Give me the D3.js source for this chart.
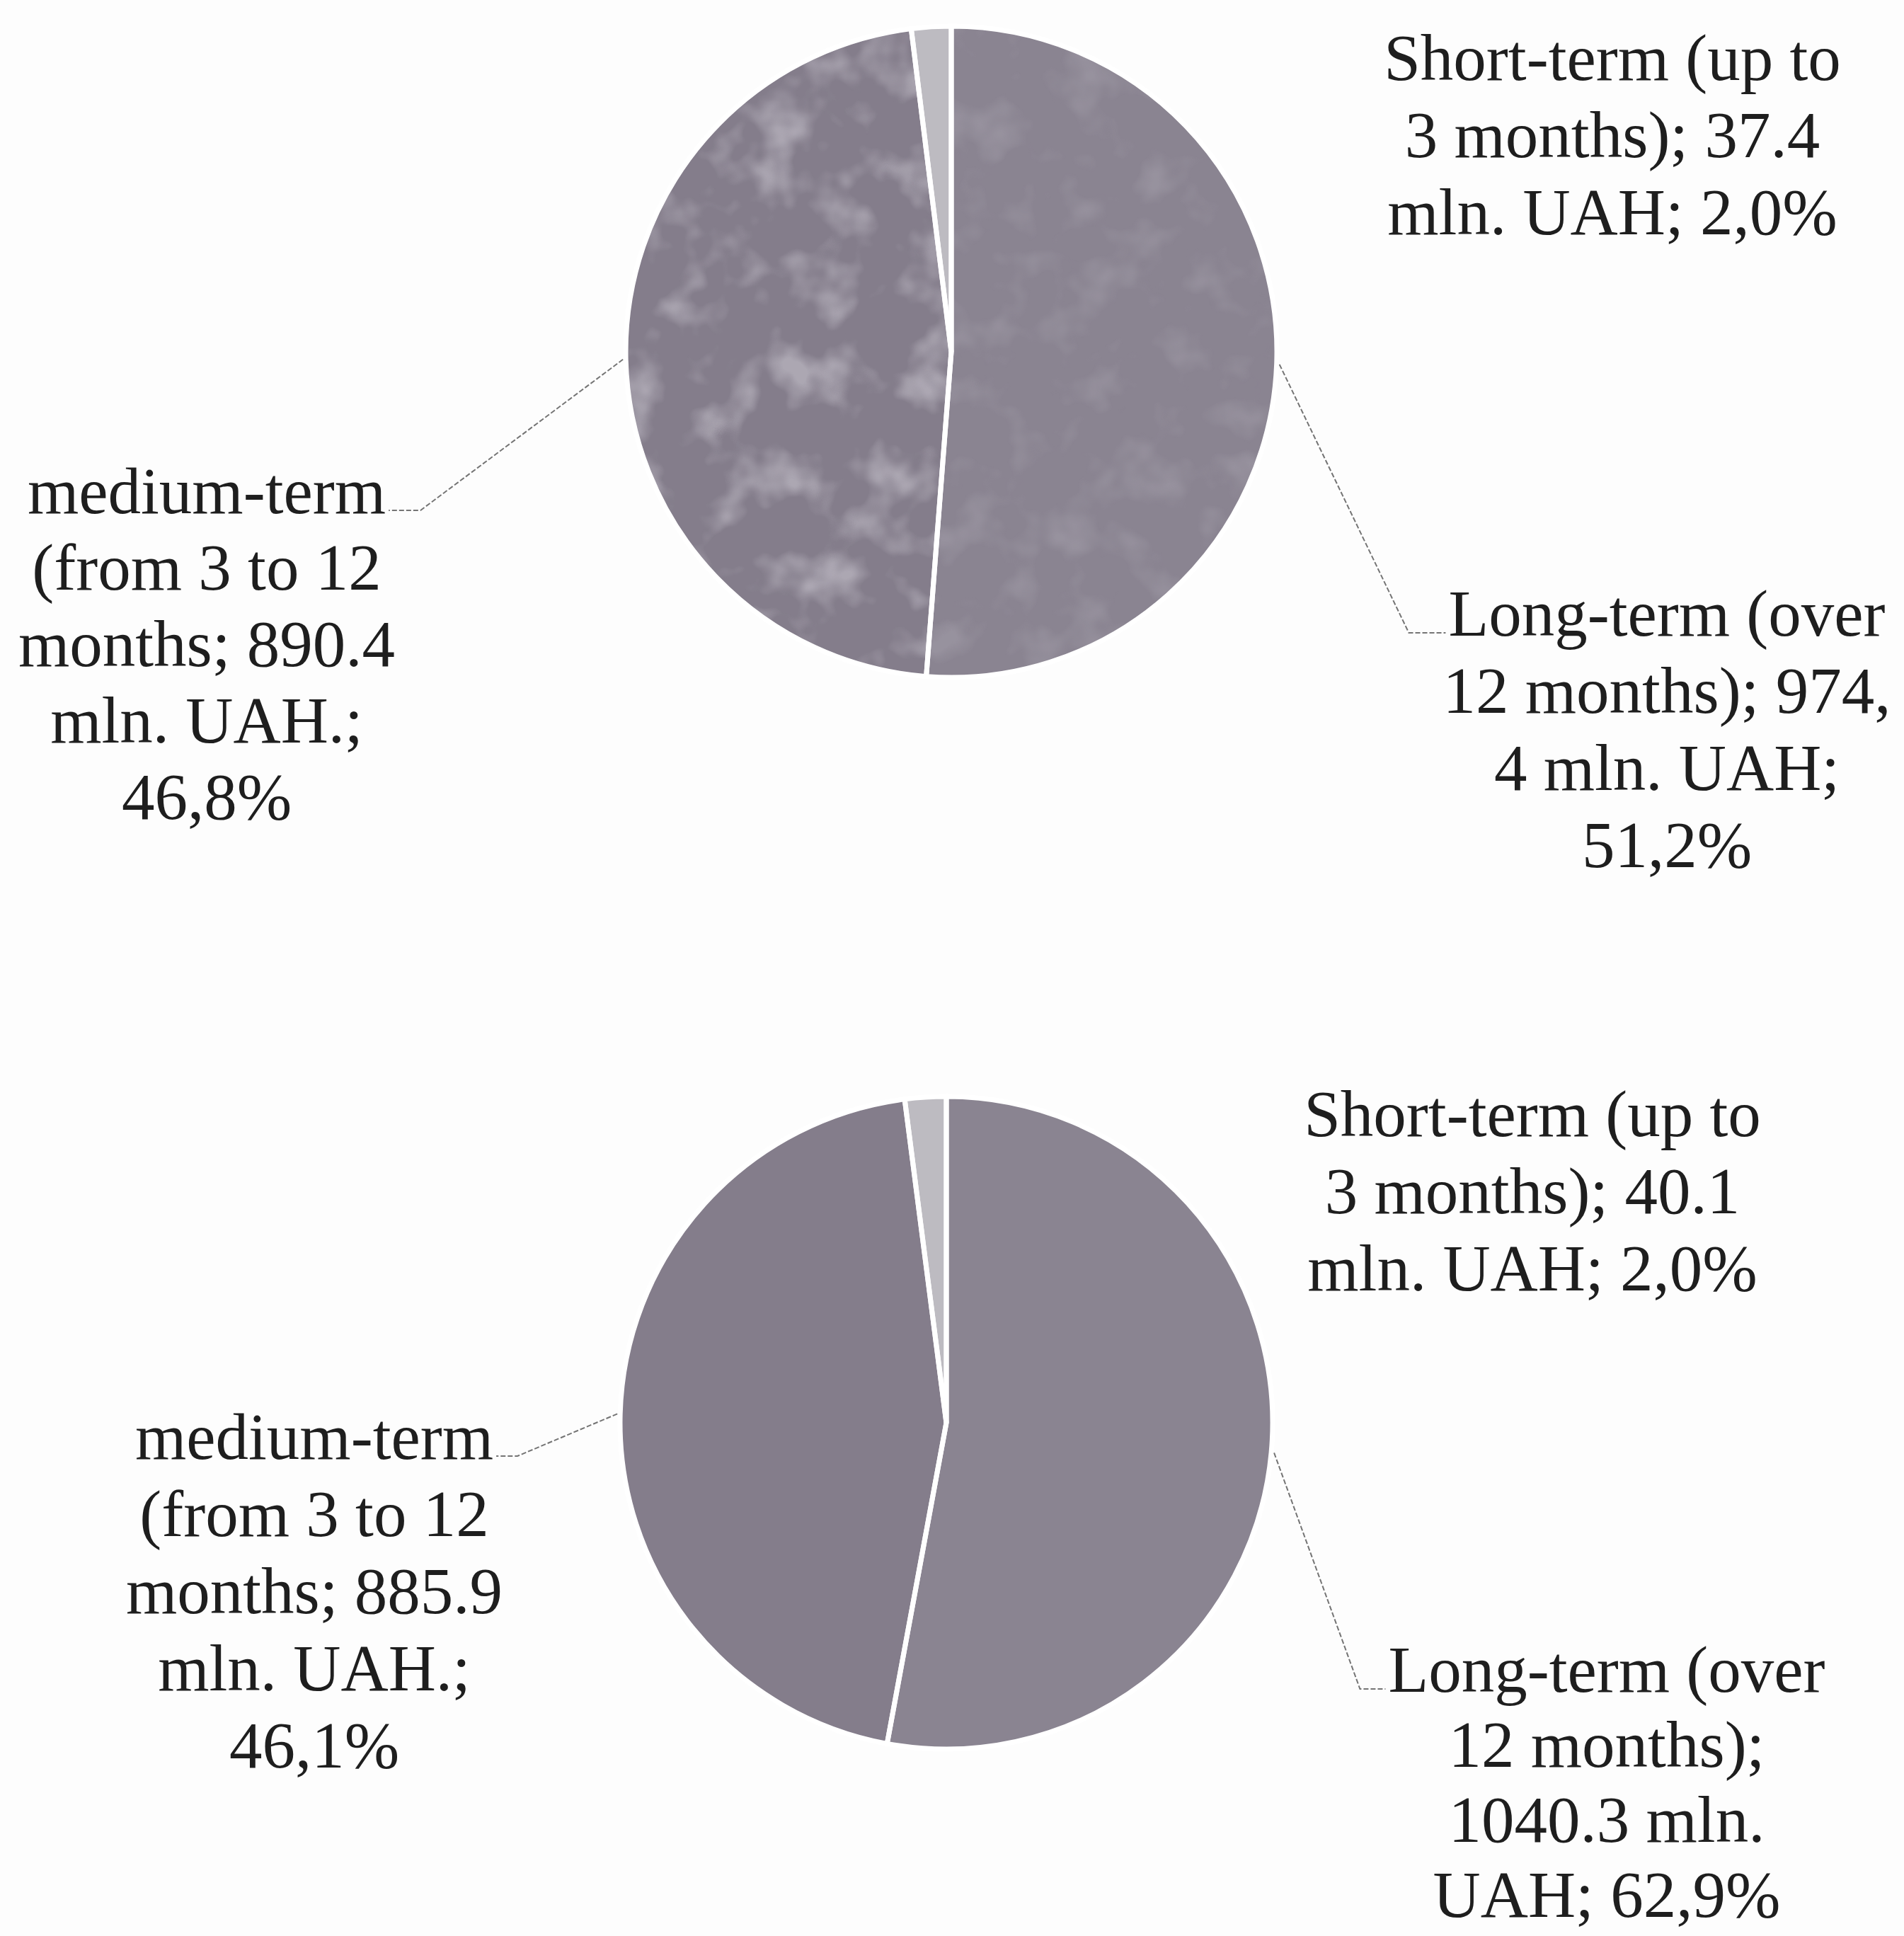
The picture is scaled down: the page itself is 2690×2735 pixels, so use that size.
<!DOCTYPE html>
<html>
<head>
<meta charset="utf-8">
<script src="https://cdn.jsdelivr.net/npm/d3@7"></script>
<style>
  html, body { margin: 0; padding: 0; background: #fdfdfd; }
  svg { display: block; }
</style>
</head>
<body>
<svg id="chart"></svg>
<script>
// Structure of deposits by term, mln. UAH (two periods)
const categories = ["Long-term", "Medium-term", "Short-term"];
const valuesTop = [974.4, 890.4, 37.4];
const valuesBottom = [1040.3, 885.9, 40.1];

const labelsTop = [
  ["Long-term (over", "12 months); 974,", "4 mln. UAH;", "51,2%"],
  ["medium-term", "(from 3 to 12", "months; 890.4", "mln. UAH.;", "46,8%"],
  ["Short-term (up to", "3 months); 37.4", "mln. UAH; 2,0%"]
];
const labelsBottom = [
  ["Long-term (over", "12 months);", "1040.3 mln.", "UAH; 62,9%"],
  ["medium-term", "(from 3 to 12", "months; 885.9", "mln. UAH.;", "46,1%"],
  ["Short-term (up to", "3 months); 40.1", "mln. UAH; 2,0%"]
];

const W = 2690, H = 2735;
const FONT = "'Liberation Serif', 'Times New Roman', serif";
const FONT_SIZE = 93;

const sliceColor = d3.scaleOrdinal()
  .domain(categories)
  .range(["#8a8491", "#847d8b", "#bdbbc1"]);

const svg = d3.select("#chart").attr("width", W).attr("height", H);
svg.append("rect").attr("width", W).attr("height", H).attr("fill", "#fdfdfd");

// soft printed-paper mottling used on the first pie
const defs = svg.append("defs");
const f = defs.append("filter").attr("id", "mottle")
  .attr("x", 0).attr("y", 0).attr("width", 1).attr("height", 1);
f.append("feTurbulence").attr("type", "fractalNoise")
  .attr("baseFrequency", 0.014).attr("numOctaves", 3).attr("seed", 11).attr("result", "n");
f.append("feColorMatrix").attr("in", "n").attr("type", "matrix")
  .attr("values", "0 0 0 0 0.66  0 0 0 0 0.64  0 0 0 0 0.70  3 0 0 0 -1.45");

// Layout of each pie and its three label blocks
const panels = [
  {
    id: "top", values: valuesTop, labels: labelsTop,
    cx: 1344, cy: 497, r: 460, mottle: [0.18, 0.5, 0],
    label: [
      { x: 2355, y: 898, lh: 109, elbow: 52 },   // long-term, leader enters from the left
      { x: 292,  y: 725, lh: 108, elbow: 45 },   // medium-term, leader leaves to the right
      { x: 2278, y: 113, lh: 109 }               // short-term, no leader
    ]
  },
  {
    id: "bottom", values: valuesBottom, labels: labelsBottom,
    cx: 1337, cy: 2010, r: 461, mottle: [0, 0, 0],
    label: [
      { x: 2270, y: 2390, lh: 106, elbow: 36 },
      { x: 444,  y: 2061, lh: 109, elbow: 30 },
      { x: 2165, y: 1605, lh: 109 }
    ]
  }
];

const pie = d3.pie().sort(null).value(d => d.value).startAngle(0).endAngle(2 * Math.PI);

panels.forEach(p => {
  const data = categories.map((c, i) => ({ cat: c, value: p.values[i], lines: p.labels[i], pos: p.label[i], mottle: p.mottle[i] }));
  const arcs = pie(data);
  const arc = d3.arc().innerRadius(0).outerRadius(p.r);

  const g = svg.append("g").attr("transform", `translate(${p.cx},${p.cy})`);

  // faint darker rim around the disc
  g.append("circle").attr("r", p.r + 1).attr("fill", "none")
    .attr("stroke", "#6f6977").attr("stroke-width", 2.5);

  g.selectAll("path.slice")
    .data(arcs)
    .join("path")
    .attr("class", "slice")
    .attr("d", arc)
    .attr("fill", d => sliceColor(d.data.cat));

  // lighter blotches inside the slices
  arcs.forEach((a, i) => {
    if (!a.data.mottle) return;
    const cid = `clip-${p.id}-${i}`;
    defs.append("clipPath").attr("id", cid)
      .append("path").attr("d", arc(a))
      .attr("transform", `translate(${p.cx},${p.cy})`);
    svg.append("rect")
      .attr("x", p.cx - p.r).attr("y", p.cy - p.r)
      .attr("width", 2 * p.r).attr("height", 2 * p.r)
      .attr("filter", "url(#mottle)")
      .attr("clip-path", `url(#${cid})`)
      .attr("opacity", a.data.mottle);
  });

  // white separators drawn on top
  svg.append("g").attr("transform", `translate(${p.cx},${p.cy})`)
    .selectAll("path")
    .data(arcs)
    .join("path")
    .attr("d", arc)
    .attr("fill", "none")
    .attr("stroke", "#ffffff")
    .attr("stroke-width", 7)
    .attr("stroke-linejoin", "miter");

  // label blocks
  arcs.forEach(a => {
    const pos = a.data.pos;
    const t = svg.append("text")
      .attr("font-family", FONT)
      .attr("font-size", FONT_SIZE)
      .attr("fill", "#1e1e1e")
      .attr("text-anchor", "middle");
    a.data.lines.forEach((ln, k) => {
      t.append("tspan").attr("x", pos.x).attr("y", pos.y + k * pos.lh).text(ln);
    });

    if (pos.elbow === undefined) return;

    // leader line from the slice edge to the first line of its label
    const first = t.select("tspan").node();
    const w = first.getComputedTextLength();
    const mid = (a.startAngle + a.endAngle) / 2;
    const ax = p.cx + (p.r + 4) * Math.sin(mid);
    const ay = p.cy - (p.r + 4) * Math.cos(mid);
    const ly = pos.y - 4;
    let endX, elbowX;
    if (ax > p.cx) {
      endX = pos.x - w / 2 - 4;
      elbowX = endX - pos.elbow;
    } else {
      endX = pos.x + w / 2 + 4;
      elbowX = endX + pos.elbow;
    }
    svg.append("path")
      .attr("d", d3.line()([[ax, ay], [elbowX, ly], [endX, ly]]))
      .attr("fill", "none")
      .attr("stroke", "#747474")
      .attr("stroke-width", 2)
      .attr("stroke-dasharray", "7 3");
  });
});
</script>
</body>
</html>
